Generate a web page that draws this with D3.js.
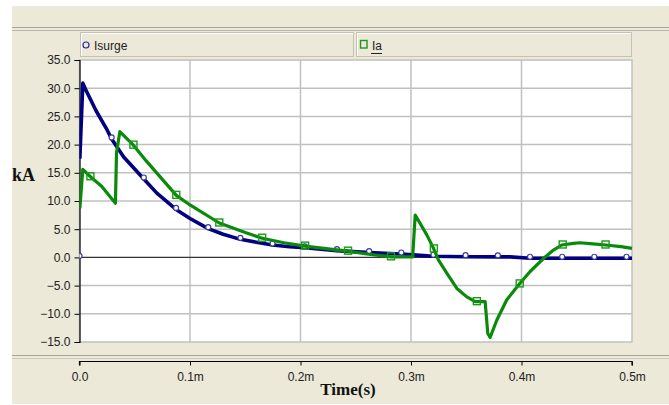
<!DOCTYPE html>
<html><head><meta charset="utf-8">
<script src="https://cdn.jsdelivr.net/npm/d3@7"></script>
<style>html,body{margin:0;padding:0;background:#fff;}svg{display:block;}</style>
</head><body>
<svg id="c" width="669" height="405"></svg>
<script>
// ---- data (time in ms, current in kA) ----
const yTicks = [-15, -10, -5, 0, 5, 10, 15, 20, 25, 30, 35];
const xTicks = [0, 0.1, 0.2, 0.3, 0.4, 0.5];
const xTickLabels = ["0.0", "0.1m", "0.2m", "0.3m", "0.4m", "0.5m"];
const seriesNames = ["Isurge", "Ia"];

const isurgeT = [0.0003, 0.003, 0.006, 0.01, 0.015, 0.02, 0.025, 0.0291, 0.04, 0.0582, 0.07, 0.0874, 0.1, 0.1165, 0.13, 0.1456, 0.16, 0.1747, 0.19, 0.2038, 0.233, 0.2621, 0.2912, 0.305, 0.3203, 0.3494, 0.3786, 0.3897, 0.4077, 0.4368, 0.4659, 0.495, 0.5];
const isurgeV = [17.5, 30.9, 29.6, 28.0, 26.0, 24.3, 22.6, 21.0, 17.8, 13.9, 11.4, 8.5, 6.9, 5.1, 4.1, 3.2, 2.7, 2.2, 1.9, 1.7, 1.2, 0.85, 0.6, 0.4, 0.2, 0.12, 0.1, 0.1, -0.15, -0.15, -0.15, -0.15, -0.15];
const isurgeMarkT = [0, 0.0291, 0.0582, 0.0874, 0.1165, 0.1456, 0.1747, 0.2038, 0.233, 0.2621, 0.2912, 0.3203, 0.3494, 0.3786, 0.4077, 0.4368, 0.4659, 0.495];
const isurgeMarkV = [0, 21.0, 13.9, 8.5, 5.1, 3.2, 2.2, 1.7, 1.2, 0.85, 0.6, 0.2, 0.12, 0.1, -0.15, -0.15, -0.15, -0.15];

const iaT = [0.0003, 0.003, 0.0099, 0.02, 0.0325, 0.0335, 0.0365, 0.0488, 0.06, 0.0876, 0.1, 0.1265, 0.15, 0.1653, 0.185, 0.2042, 0.225, 0.243, 0.26, 0.2819, 0.295, 0.3015, 0.3038, 0.3083, 0.3143, 0.3204, 0.3249, 0.3324, 0.3415, 0.3505, 0.355, 0.358, 0.3671, 0.3695, 0.3716, 0.3777, 0.3867, 0.3973, 0.4078, 0.4198, 0.4289, 0.4364, 0.447, 0.453, 0.4647, 0.4761, 0.49, 0.5];
const iaV = [8.7, 15.6, 14.3, 12.6, 9.6, 18.5, 22.3, 19.9, 17.2, 11.0, 9.3, 6.1, 4.4, 3.4, 2.6, 2.0, 1.5, 1.1, 0.6, 0.1, 0.1, 0.1, 7.5, 6.0, 4.0, 1.6, -0.5, -2.8, -5.5, -7.0, -7.5, -7.85, -7.85, -13.5, -14.2, -11.1, -7.5, -4.9, -2.5, -0.2, 1.3, 2.2, 2.5, 2.6, 2.4, 2.2, 1.9, 1.6];
const iaMarkT = [0.0099, 0.0488, 0.0876, 0.1265, 0.1653, 0.2042, 0.243, 0.2819, 0.3207, 0.3596, 0.3984, 0.4373, 0.4761];
const iaMarkV = [14.3, 19.9, 11.0, 6.1, 3.4, 2.0, 1.1, 0.1, 1.5, -7.85, -4.7, 2.2, 2.2];

// ---- layout ----
const svg = d3.select("#c");
const beige = "#ece9d8";
const L = 79.5, R = 632, T = 60, B = 342;
const x = d3.scaleLinear().domain([0, 0.5]).range([L, R]);
const y = d3.scaleLinear().domain([-15, 35]).range([B, T]);

// background panels
svg.append("rect").attr("x", 12).attr("y", 6).attr("width", 657).attr("height", 398).attr("fill", beige);
svg.append("line").attr("x1", 12).attr("x2", 669).attr("y1", 27.5).attr("y2", 27.5).attr("stroke", "#a7a59a");
svg.append("line").attr("x1", 12).attr("x2", 669).attr("y1", 30.5).attr("y2", 30.5).attr("stroke", "#b9b7ab");
svg.append("line").attr("x1", 12).attr("x2", 669).attr("y1", 355.5).attr("y2", 355.5).attr("stroke", "#a7a59a");
svg.append("line").attr("x1", 12).attr("x2", 669).attr("y1", 358.5).attr("y2", 358.5).attr("stroke", "#c9c7bb");

// legend boxes
const leg = [
  {x0: 80, x1: 353, name: seriesNames[0], color: "#2a2a9a"},
  {x0: 356, x1: 631, name: seriesNames[1], color: "#1a9a1a"}
];
leg.forEach(d => {
  svg.append("rect").attr("x", d.x0 + 0.5).attr("y", 32.5).attr("width", d.x1 - d.x0).attr("height", 24)
    .attr("fill", beige).attr("stroke", "#c4c1b3");
  svg.append("line").attr("x1", d.x0 + 1).attr("x2", d.x1).attr("y1", 33.5).attr("y2", 33.5).attr("stroke", "#fff");
  svg.append("line").attr("x1", d.x0 + 1.5).attr("x2", d.x0 + 1.5).attr("y1", 33.5).attr("y2", 56).attr("stroke", "#fff");
});
svg.append("circle").attr("cx", 86).attr("cy", 45).attr("r", 3).attr("fill", "none").attr("stroke", leg[0].color).attr("stroke-width", 1.2);
svg.append("text").attr("x", 94).attr("y", 49.5).attr("font-family", "Liberation Sans, Arial, sans-serif").attr("font-size", 12).attr("fill", "#222").text(leg[0].name);
svg.append("rect").attr("x", 360.5).attr("y", 40.5).attr("width", 6.5).attr("height", 7.5).attr("fill", "none").attr("stroke", leg[1].color).attr("stroke-width", 1.4);
svg.append("text").attr("x", 372).attr("y", 49.5).attr("font-family", "Liberation Sans, Arial, sans-serif").attr("font-size", 12).attr("fill", "#222").text(leg[1].name);
svg.append("line").attr("x1", 371).attr("x2", 382).attr("y1", 53.5).attr("y2", 53.5).attr("stroke", "#222");

// plot area
svg.append("rect").attr("x", L).attr("y", T).attr("width", R - L).attr("height", B - T).attr("fill", "#fff").attr("stroke", "#c0c0c0").attr("stroke-width", 1.5);

// grid
const g = svg.append("g");
g.selectAll(".hg").data(yTicks.filter(v => v !== 0 && v !== -15 && v !== 35)).join("line")
  .attr("x1", L).attr("x2", R).attr("y1", d => y(d)).attr("y2", d => y(d)).attr("stroke", "#c0c0c0").attr("stroke-width", 1.5);
g.selectAll(".vg").data(xTicks.slice(1, -1)).join("line")
  .attr("x1", d => x(d)).attr("x2", d => x(d)).attr("y1", T).attr("y2", B).attr("stroke", "#c0c0c0").attr("stroke-width", 1.5);
g.append("line").attr("x1", L).attr("x2", R).attr("y1", y(0)).attr("y2", y(0)).attr("stroke", "#333").attr("stroke-width", 1.2);

// y axis
const yAxis = d3.axisLeft(y).tickValues(yTicks).tickFormat(d3.format(".1f")).tickSize(5).tickPadding(4);
const ya = svg.append("g").attr("transform", `translate(${L},0)`).call(yAxis);
ya.select(".domain").attr("stroke", "#000").attr("stroke-width", 1.2);
ya.selectAll("line").attr("stroke", "#000");
ya.selectAll("text").attr("font-family", "Liberation Sans, Arial, sans-serif").attr("font-size", 12).attr("fill", "#222");

// x axis (separate, below divider)
const xAxis = d3.axisBottom(x).tickValues(xTicks).tickFormat((d, i) => xTickLabels[i]).tickSize(4).tickSizeOuter(4).tickPadding(7);
const xa = svg.append("g").attr("transform", "translate(0,361.5)").call(xAxis);
xa.select(".domain").attr("stroke", "#000").attr("stroke-width", 1.2).attr("d", `M${L},4V0H${R}V4`);
xa.selectAll("line").attr("stroke", "#000");
xa.selectAll("text").attr("font-family", "Liberation Sans, Arial, sans-serif").attr("font-size", 12).attr("fill", "#222");

// axis titles
svg.append("text").attr("x", 12).attr("y", 181).attr("font-family", "Liberation Serif, Times New Roman, serif").attr("font-weight", "bold").attr("font-size", 18).attr("fill", "#111").text("kA");
svg.append("text").attr("x", 348).attr("y", 395).attr("text-anchor", "middle").attr("font-family", "Liberation Serif, Times New Roman, serif").attr("font-weight", "bold").attr("font-size", 17).attr("fill", "#111").text("Time(s)");

// series
const plot = svg.append("g");
plot.append("clipPath").attr("id", "clip").append("rect").attr("x", L).attr("y", T - 5).attr("width", R - L + 1).attr("height", B - T + 10);
const line = d3.line().x(d => x(d[0])).y(d => y(d[1]));
const s1 = isurgeT.map((t, i) => [t, isurgeV[i]]);
const s2 = iaT.map((t, i) => [t, iaV[i]]);
const m1 = isurgeMarkT.map((t, i) => [t, isurgeMarkV[i]]);
const m2 = iaMarkT.map((t, i) => [t, iaMarkV[i]]);

const pg = plot.append("g").attr("clip-path", "url(#clip)");
pg.append("path").datum(s1).attr("d", line).attr("fill", "none").attr("stroke", "#000080").attr("stroke-width", 3.6).attr("stroke-linejoin", "round");
pg.selectAll(".m1").data(m1).join("circle").attr("cx", d => x(d[0])).attr("cy", d => y(d[1]) - 1.5).attr("r", 2.5)
  .attr("fill", "#fff").attr("stroke", "#3a3aa0").attr("stroke-width", 1.2);
pg.append("path").datum(s2).attr("d", line).attr("fill", "none").attr("stroke", "#0a8a0a").attr("stroke-width", 3.2).attr("stroke-linejoin", "round");
pg.selectAll(".m2").data(m2).join("rect").attr("x", d => x(d[0]) - 3.5).attr("y", d => y(d[1]) - 4).attr("width", 7).attr("height", 7)
  .attr("fill", "none").attr("stroke", "#1a9a1a").attr("stroke-width", 1.4);
</script>
</body></html>
